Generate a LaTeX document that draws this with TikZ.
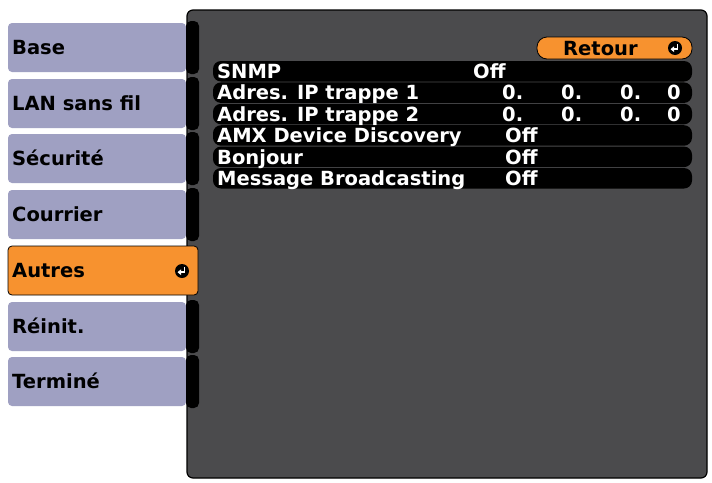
\documentclass[tikz,border=0pt]{standalone}
\usepackage{fontspec}
\setmainfont{DejaVu Sans}
\begin{document}
\begin{tikzpicture}[x=1pt,y=-1pt,
 tab/.style={fill=tabc,rounded corners=4pt},
 lbl/.style={anchor=base west,font=\fontsize{19.5}{19.5}\selectfont\bfseries,inner sep=0pt},
 wl/.style={lbl,text=white},
 row/.style={fill=black,rounded corners=8pt},
 icon/.style={circle,fill=black,minimum size=14pt,inner sep=0pt},
 ret/.style={white,line width=1.6pt,-{Triangle[length=3.5pt,width=5.5pt]}}]
\usetikzlibrary{arrows.meta}
\definecolor{tabc}{HTML}{9FA0C2}
\definecolor{panel}{HTML}{4B4B4D}
\definecolor{org}{HTML}{F7922F}
\useasboundingbox (0,0) rectangle (712,482);
\fill[white] (0,0) rectangle (712,482);
% panel
\draw[fill=panel,line width=1.2pt,rounded corners=6pt] (187,10) rectangle (707,478);
% tabs
\foreach \n/\y/\t in {a/23/Base,b/79/LAN sans fil,c/134/Sécurité,d/190/Courrier,f/302/Réinit.,g/357/Terminé}{
  \fill[tab] (8,\y) rectangle (186,\y+49);
  \fill[black,rounded corners=5pt] (186,\y-2) rectangle (199,\y+51);
  \node[lbl] (t\n) at (12,\y+31) {\t};
}
\draw[fill=org,rounded corners=4pt,line width=0.8pt] (8,246) rectangle (198,295);
\node[lbl] (te) at (12,277) {Autres};
\node[icon] (ie) at (182,271) {};
\draw[white,line width=1.6pt] (ie.center)+(2.5,-4) -- +(2.5,1.2) -- +(-1.5,1.2);
\draw[ret] (ie.center)+(0,1.2) -- +(-4.5,1.2);
% retour
\draw[fill=org,rounded corners=10pt,line width=0.8pt] (537,37) rectangle (692,59);
\node[lbl] (ret) at (563,55) {Retour};
\node[icon] (ir) at (675,48) {};
\draw[white,line width=1.6pt] (ir.center)+(2.5,-4) -- +(2.5,1.2) -- +(-1.5,1.2);
\draw[ret] (ir.center)+(0,1.2) -- +(-4.5,1.2);
% rows
\foreach \y in {61,82.4,103.8,125.2,146.6,168}{
  \fill[row] (213,\y) rectangle (692,\y+20.5);
}
\node[wl] (r1) at (217,78) {SNMP};
\node[wl] (v1) at (473,78) {Off};
\node[wl] (r2) at (217,99.5) {Adres. IP trappe 1};
\node[wl] (r3) at (217,121) {Adres. IP trappe 2};
\foreach \yy/\k in {99.5/2,121/3}{
  \node[wl] (p\k a) at (502,\yy) {0.};
  \node[wl] (p\k b) at (561,\yy) {0.};
  \node[wl] (p\k c) at (620,\yy) {0.};
  \node[wl] (p\k d) at (667,\yy) {0};
}
\node[wl] (r4) at (217,142.5) {AMX Device Discovery};
\node[wl] (v4) at (505,142.5) {Off};
\node[wl] (r5) at (217,164) {Bonjour};
\node[wl] (v5) at (505,164) {Off};
\node[wl] (r6) at (217,185) {Message Broadcasting};
\node[wl] (v6) at (505,185) {Off};
\end{tikzpicture}
\end{document}
